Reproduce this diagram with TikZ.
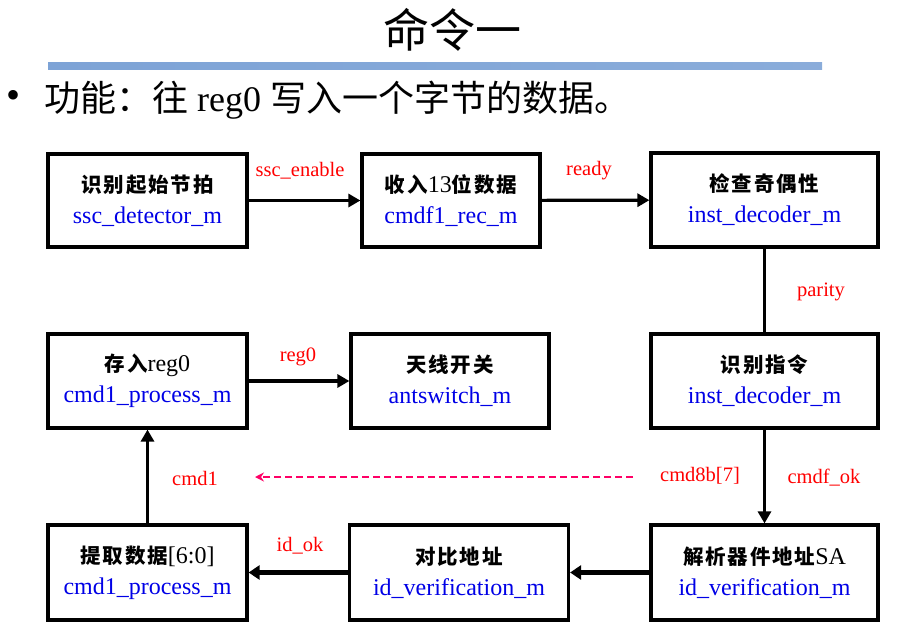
\documentclass[tikz,border=0pt]{standalone}
\usepackage{fontspec}
\setmainfont{Liberation Serif}
\newfontfamily\cjk{Noto Sans CJK SC}
\newfontfamily\cjkwide[LetterSpace=9]{Noto Sans CJK SC}
\usetikzlibrary{arrows.meta}
\definecolor{labred}{RGB}{255,0,0}
\definecolor{modblue}{RGB}{0,0,230}
\definecolor{dashpink}{RGB}{255,0,102}
\definecolor{barblue}{RGB}{125,163,214}
\newcommand{\zh}[1]{{\cjkwide\bfseries\fontsize{20.5}{31}\selectfont #1}}
\newcommand{\md}[1]{\textcolor{modblue}{#1}}
\begin{document}
\begin{tikzpicture}[x=1pt,y=-1pt,
  box/.style={draw, line width=3.2pt, inner sep=0pt, align=center,
    font=\fontsize{24}{31}\selectfont},
  sig/.style={text=labred, font=\fontsize{20.5}{22}\selectfont, inner sep=1pt},
  flow/.style={line width=3.2pt, -{Triangle[length=12pt,width=13pt]}},
  flowthick/.style={line width=5pt, -{Triangle[length=11pt,width=14pt]}},
  link/.style={line width=3.2pt},
  hint/.style={dashpink, dashed, dash pattern=on 7pt off 4pt, line width=1.6pt,
    -{Stealth[length=9pt,width=9pt]}}]
\useasboundingbox (0,0) rectangle (916,637);
% header
\node[font=\cjk\fontsize{46}{46}\selectfont] (title) at (452,30) {命令一};
\shade[left color=barblue, right color=barblue!90!white] (48,62) rectangle (822,69);
\node[font=\fontsize{40}{40}\selectfont, anchor=center] (bul) at (14,99) {•};
\node[anchor=west, inner sep=0pt, font=\fontsize{36}{36}\selectfont] (func) at (44,100)
  {{\cjk 功能：往} reg0 {\cjk 写入一个字节的数据。}};
% boxes
\node[box, minimum width=199pt, minimum height=93pt] (b1) at (147.5,200.5)
  {\zh{识别起始节拍}\\\md{ssc\_detector\_m}};
\node[box, minimum width=178pt, minimum height=93pt] (b2) at (451,200.5)
  {\zh{收入}13\zh{位数据}\\\md{cmdf1\_rec\_m}};
\node[box, minimum width=227pt, minimum height=94pt] (b3) at (764.5,200)
  {\zh{检查奇偶性}\\\md{inst\_decoder\_m}};
\node[box, minimum width=227pt, minimum height=94pt] (b4) at (764.5,381)
  {\zh{识别指令}\\\md{inst\_decoder\_m}};
\node[box, minimum width=199pt, minimum height=94pt] (b5) at (147.5,381)
  {\zh{存入}reg0\\\md{cmd1\_process\_m}};
\node[box, minimum width=198pt, minimum height=94pt] (b6) at (450,381)
  {\zh{天线开关}\\\md{antswitch\_m}};
\node[box, minimum width=199pt, minimum height=95pt] (b7) at (147.5,572.5)
  {\zh{提取数据}[6:0]\\\md{cmd1\_process\_m}};
\node[box, minimum width=219pt, minimum height=95pt] (b8) at (459,572.5)
  {\zh{对比地址}\\\md{id\_verification\_m}};
\node[box, minimum width=227pt, minimum height=95pt] (b9) at (764.5,572.5)
  {\zh{解析器件地址}SA\\\md{id\_verification\_m}};
% connectors
\draw[flow] (b1) -- (b2);
\draw[flow] (b2) -- (b3);
\draw[link] (b3) -- (b4);
\draw[flow] (b4) -- (b9);
\draw[flowthick] (b9) -- (b8);
\draw[flowthick] (b8) -- (b7);
\draw[flow] (b7.north) -- (b5.south);
\draw[flow] (b5) -- (b6);
% labels
\node[sig] (lssc) at (300,171) {ssc\_enable};
\node[sig] (lready) at (589,171) {ready};
\node[sig] (lpar) at (821,292) {parity};
\node[sig] (lreg) at (298,357) {reg0};
\node[sig] (lcmd1) at (195,478) {cmd1};
\node[sig] (lcmd8) at (700,476) {cmd8b[7]};
\node[sig] (lok) at (824,478) {cmdf\_ok};
\node[sig] (lid) at (300,546) {id\_ok};
\coordinate (dS) at (633,477);
\coordinate (dE) at (255,477);
\draw[hint] (dS) -- (dE);
\end{tikzpicture}
\end{document}
